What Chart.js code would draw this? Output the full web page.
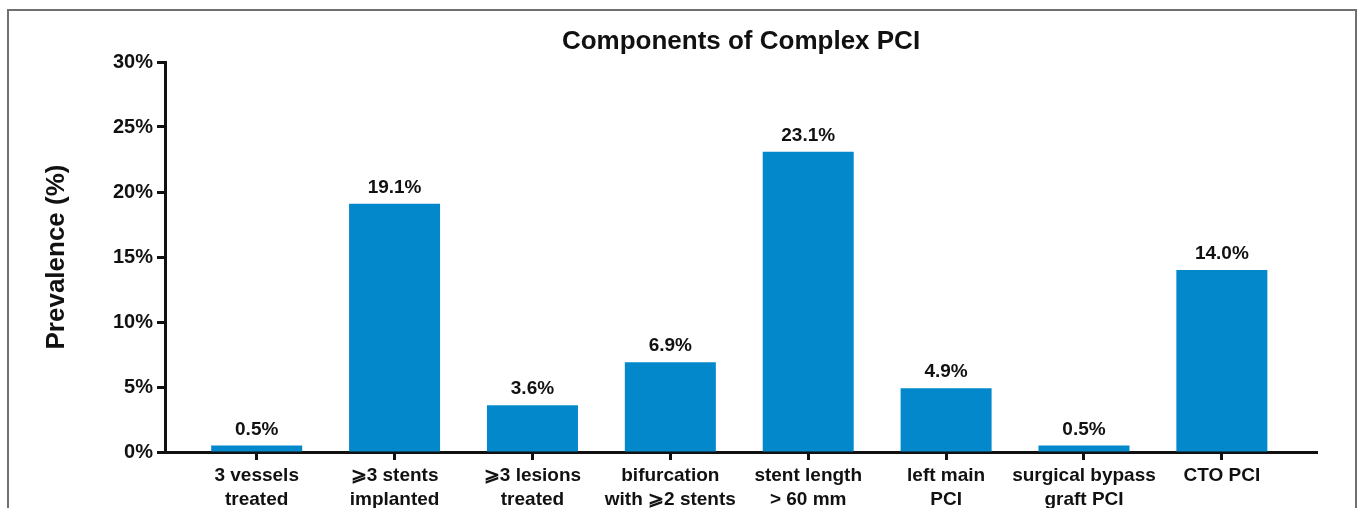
<!DOCTYPE html>
<html>
<head>
<meta charset="utf-8">
<script src="https://cdn.jsdelivr.net/npm/chart.js@4.4.0/dist/chart.umd.min.js"></script>
<style>
    html, body { margin: 0; padding: 0; background: #fff; overflow: hidden; }
    #wrap { position: relative; width: 1360px; height: 508px; }
    #frame {
        position: absolute; left: 7px; top: 9px; right: 3px; bottom: -20px;
        border: 2px solid #707070; pointer-events: none;
    }
    canvas { position: absolute; left: 0; top: 0; }
</style>
</head>
<body>
<div id="wrap">
    <canvas id="pciChart" width="1360" height="508"></canvas>
    <div id="frame"></div>
</div>
<script>
var chartTitle = 'Components of Complex PCI';
var axisTitle = 'Prevalence (%)';
var categories = [
    ['3 vessels', 'treated'],
    ['⩾3 stents', 'implanted'],
    ['⩾3 lesions', 'treated'],
    ['bifurcation', 'with ⩾2 stents'],
    ['stent length', '> 60 mm'],
    ['left main', 'PCI'],
    ['surgical bypass', 'graft PCI'],
    ['CTO PCI']
];
var prevalence = [0.5, 19.1, 3.6, 6.9, 23.1, 4.9, 0.5, 14.0];
var yTicks = [0, 5, 10, 15, 20, 25, 30];

var FONT = '"Liberation Sans", Arial, Helvetica, sans-serif';
var BAR_COLOR = '#0288cb';
var INK = '#111111';

// title centred over the plot area, not the whole canvas
var areaTitle = {
    id: 'areaTitle',
    afterDraw: function(chart) {
        var ctx = chart.ctx;
        var area = chart.chartArea;
        ctx.save();
        ctx.font = 'bold 26px ' + FONT;
        ctx.fillStyle = INK;
        ctx.textAlign = 'center';
        ctx.textBaseline = 'alphabetic';
        ctx.fillText(chartTitle, (area.left + area.right) / 2, area.top - 13);
        ctx.restore();
    }
};

// percentage above every bar
var barValueLabels = {
    id: 'barValueLabels',
    afterDatasetsDraw: function(chart) {
        var ctx = chart.ctx;
        var meta = chart.getDatasetMeta(0);
        ctx.save();
        ctx.font = 'bold 19px ' + FONT;
        ctx.fillStyle = INK;
        ctx.textAlign = 'center';
        ctx.textBaseline = 'alphabetic';
        meta.data.forEach(function(bar, i) {
            ctx.fillText(prevalence[i].toFixed(1) + '%', bar.x, bar.y - 11);
        });
        ctx.restore();
    }
};

var points = prevalence.map(function(v, i) { return { x: i, y: v }; });

var ctx = document.getElementById('pciChart').getContext('2d');
new Chart(ctx, {
    type: 'bar',
    data: {
        datasets: [{
            data: points,
            backgroundColor: BAR_COLOR,
            borderWidth: 0,
            barPercentage: 0.66,
            categoryPercentage: 1
        }]
    },
    options: {
        responsive: false,
        animation: false,
        events: [],
        layout: { padding: { left: 37, right: 43, top: 62, bottom: 0 } },
        plugins: {
            legend: { display: false },
            tooltip: { enabled: false }
        },
        scales: {
            x: {
                type: 'linear',
                offset: false,
                min: -0.665,
                max: 7.69,
                afterFit: function(scale) { scale.height = 56; },
                grid: {
                    offset: false,
                    drawOnChartArea: false,
                    drawTicks: true,
                    tickLength: 8,
                    tickWidth: 3,
                    tickColor: INK
                },
                border: { display: true, width: 3, color: INK },
                ticks: {
                    stepSize: 1,
                    includeBounds: false,
                    autoSkip: false,
                    maxRotation: 0,
                    minRotation: 0,
                    padding: 4,
                    color: INK,
                    font: { family: FONT, size: 19, weight: 'bold', lineHeight: 1.26 },
                    callback: function(value) {
                        return categories[value] || '';
                    }
                }
            },
            y: {
                min: yTicks[0],
                max: yTicks[yTicks.length - 1],
                afterFit: function(scale) { scale.width = 128; },
                grid: {
                    drawOnChartArea: false,
                    drawTicks: true,
                    tickLength: 8,
                    tickWidth: 3,
                    tickColor: INK
                },
                border: { display: true, width: 3, color: INK },
                ticks: {
                    stepSize: 5,
                    padding: 4,
                    color: INK,
                    font: { family: FONT, size: 20, weight: 'bold' },
                    callback: function(value) { return value + '%'; }
                },
                title: {
                    display: true,
                    text: axisTitle,
                    color: INK,
                    padding: { top: 4, bottom: 4 },
                    font: { family: FONT, size: 26, weight: 'bold', lineHeight: 1.2 }
                }
            }
        }
    },
    plugins: [areaTitle, barValueLabels]
});
</script>
</body>
</html>
